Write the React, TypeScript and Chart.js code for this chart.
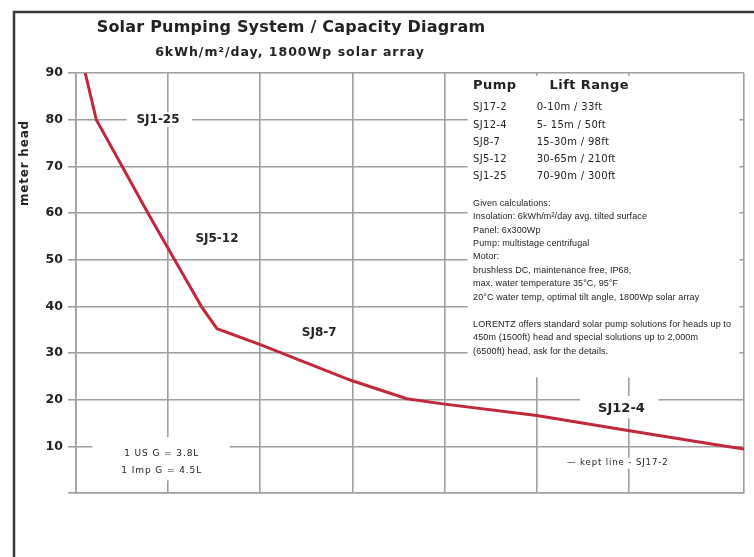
import React, { useEffect, useRef } from "react";
import { Chart, registerables } from "chart.js";

Chart.register(...registerables);

// Curve: relative flow position (grid units) vs. meter head
const flowPos = [0.1, 0.22, 0.5, 0.78, 1.07, 1.36, 1.53, 2.0, 2.99, 3.59, 3.98, 5.0, 5.99, 7.0, 7.25];
const meterHead = [90, 80, 70, 60, 50, 40, 35.2, 31.8, 24.1, 20.2, 19.1, 16.6, 13.4, 10.2, 9.4];

const yTicks = [10, 20, 30, 40, 50, 60, 70, 80, 90];

const titleText = "Solar Pumping System / Capacity Diagram";
const subtitleText = "6kWh/m²/day, 1800Wp solar array";
const yTitle = "meter head";

const pumpNames = ["SJ17-2", "SJ12-4", "SJ8-7", "SJ5-12", "SJ1-25"];
const liftRanges = ["0-10m / 33ft", "5- 15m / 50ft", "15-30m / 98ft", "30-65m / 210ft", "70-90m / 300ft"];

const notes = [
  "Given calculations:",
  "Insolation: 6kWh/m²/day avg. tilted surface",
  "Panel: 6x300Wp",
  "Pump: multistage centrifugal",
  "Motor:",
  "brushless DC, maintenance free, IP68,",
  "max. water temperature 35°C, 95°F",
  "20°C water temp, optimal tilt angle, 1800Wp solar array",
  "",
  "LORENTZ offers standard solar pump solutions for heads up to",
  "450m (1500ft) head and special solutions up to 2,000m",
  "(6500ft) head, ask for the details.",
];

const curveLabels = [
  { text: "SJ1-25", x: 0.89, y: 80, size: 12 },
  { text: "SJ5-12", x: 1.53, y: 54.4, size: 12 },
  { text: "SJ8-7", x: 2.64, y: 34.4, size: 12 },
  { text: "SJ12-4", x: 5.92, y: 18.1, size: 13 },
];

const FONT = "'Liberation Sans', Arial, sans-serif";
const WIDE = "'DejaVu Sans', Verdana, sans-serif";
const INK = "#222";

const decor = {
  id: "decor",
  beforeDraw(chart: any) {
    const { ctx, width, height } = chart;
    ctx.save();
    ctx.fillStyle = "#fff";
    ctx.fillRect(0, 0, width, height);
    ctx.strokeStyle = "#3a3a3a";
    ctx.lineWidth = 2.5;
    ctx.beginPath();
    ctx.moveTo(14, height + 5);
    ctx.lineTo(14, 12);
    ctx.lineTo(width + 5, 12);
    ctx.stroke();
    ctx.restore();
  },
  beforeDatasetsDraw(chart: any) {
    const { ctx } = chart;
    const xs = chart.scales.x;
    const ys = chart.scales.y;
    const rect = (x0: number, x1: number, y0: number, y1: number) => {
      const px0 = xs.getPixelForValue(x0);
      const px1 = xs.getPixelForValue(x1);
      const py0 = ys.getPixelForValue(y0);
      const py1 = ys.getPixelForValue(y1);
      ctx.fillRect(px0, py0, px1 - px0, py1 - py0);
    };
    ctx.save();
    ctx.fillStyle = "#fff";
    rect(4.25, 7.2, 89.4, 24.8); // info box
    rect(0.55, 1.26, 81.6, 78.4); // SJ1-25
    rect(5.47, 6.32, 20.8, 16.0); // SJ12-4
    rect(5.1, 6.6, 7.6, 5.2); // kept-line note
    rect(0.18, 1.67, 12.0, 2.7); // unit note
    ctx.restore();
  },
  afterDatasetsDraw(chart: any) {
    const { ctx, chartArea } = chart;
    const xs = chart.scales.x;
    const ys = chart.scales.y;
    const X = (v: number) => xs.getPixelForValue(v);
    const Y = (v: number) => ys.getPixelForValue(v);
    const sp = (v: number) => {
      (ctx as any).letterSpacing = v + "px";
    };
    ctx.save();
    ctx.fillStyle = INK;
    ctx.textBaseline = "middle";

    // titles
    ctx.textAlign = "center";
    ctx.font = `bold 16px ${WIDE}`;
    sp(0.2);
    ctx.fillText(titleText, chartArea.left + 215, 28);
    ctx.font = `bold 12.5px ${WIDE}`;
    sp(1.0);
    ctx.fillText(subtitleText, chartArea.left + 214, 53);

    // y axis title
    ctx.save();
    ctx.translate(chartArea.left - 51, Y(70.7));
    ctx.rotate(-Math.PI / 2);
    ctx.font = `bold 12px ${WIDE}`;
    sp(0.8);
    ctx.fillText(yTitle, 0, 0);
    ctx.restore();

    // curve labels
    sp(0);
    for (const l of curveLabels) {
      ctx.font = `bold ${l.size}px ${WIDE}`;
      ctx.fillText(l.text, X(l.x), Y(l.y));
    }

    // notes
    ctx.font = `9px ${WIDE}`;
    sp(0.9);
    ctx.fillText("1 US G = 3.8L", X(0.93), Y(8.5));
    ctx.fillText("1 Imp G = 4.5L", X(0.93), Y(4.8));
    ctx.font = `8.5px ${WIDE}`;
    ctx.fillText("— kept line - SJ17-2", X(5.88), Y(6.5));

    // info box
    ctx.textAlign = "left";
    ctx.font = `bold 13px ${WIDE}`;
    sp(0.4);
    ctx.fillText("Pump", X(4.31), Y(87.4));
    ctx.fillText("Lift Range", X(5.14), Y(87.4));
    const rowY = [82.6, 78.8, 75.1, 71.5, 67.8];
    ctx.font = `10px ${WIDE}`;
    sp(0.3);
    pumpNames.forEach((p, i) => {
      ctx.fillText(p, X(4.31), Y(rowY[i]));
      ctx.fillText(liftRanges[i], X(5.0), Y(rowY[i]));
    });
    ctx.font = `9px ${FONT}`;
    sp(0.1);
    notes.forEach((t, i) => {
      if (t) ctx.fillText(t, X(4.31), Y(62.1 - i * 2.88));
    });
    ctx.restore();
  },
};

export default function App() {
  const ref = useRef<HTMLCanvasElement | null>(null);
  useEffect(() => {
    if (!ref.current) return;
    const chart = new Chart(ref.current, {
      type: "line",
      data: {
        datasets: [
          {
            data: flowPos.map((x, i) => ({ x, y: meterHead[i] })),
            borderColor: "#c2283c",
            borderWidth: 3,
            pointRadius: 0,
            tension: 0,
            fill: false,
          },
        ],
      },
      options: {
        animation: false,
        responsive: true,
        maintainAspectRatio: false,
        layout: { padding: { top: 73, right: 10, left: 0, bottom: 0 } },
        plugins: { legend: { display: false }, tooltip: { enabled: false } },
        scales: {
          x: {
            type: "linear",
            min: 0,
            max: 7.25,
            ticks: { stepSize: 1, display: false },
            grid: { color: "#9e9e9e", lineWidth: 1.6, drawTicks: false },
            border: { display: true, color: "#9e9e9e", width: 1.6 },
            afterFit(s: any) {
              s.height = 64;
            },
          },
          y: {
            min: 0,
            max: 90,
            afterBuildTicks(s: any) {
              s.ticks = [0, ...yTicks].map((v) => ({ value: v }));
            },
            ticks: {
              callback: (v: any) => (v === 0 ? "" : String(v)),
              color: INK,
              font: { family: WIDE, size: 12.5, weight: "bold" },
              padding: 5,
            },
            grid: { color: "#9e9e9e", lineWidth: 1.6, tickLength: 8 },
            border: { display: true, color: "#9e9e9e", width: 1.6 },
            afterFit(s: any) {
              s.width = 76;
            },
          },
        },
      },
      plugins: [decor],
    } as any);
    return () => chart.destroy();
  }, []);
  return (
    <div style={{ position: "fixed", left: 0, top: 0, width: 754, height: 557, background: "#fff" }}>
      <canvas ref={ref} />
    </div>
  );
}
